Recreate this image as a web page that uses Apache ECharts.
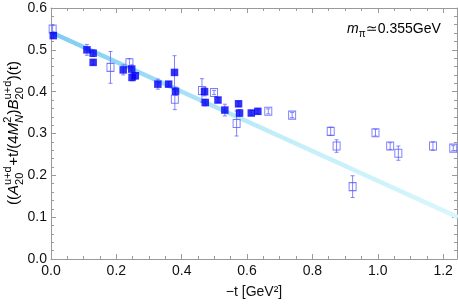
<!DOCTYPE html>
<html><head><meta charset="utf-8">
<script src="https://cdn.jsdelivr.net/npm/echarts@6/dist/echarts.min.js"></script>
<style>html,body{margin:0;padding:0;background:#fff}#c{width:458px;height:304px}</style>
</head><body><div id="c"></div>
<script>
// ---- data ----
const xTickLabels = ['0.0','0.2','0.4','0.6','0.8','1.0','1.2'];
const yTickLabels = ['0.0','0.1','0.2','0.3','0.4','0.5','0.6'];
const filledX   = [0.007,0.110,0.129,0.129,0.221,0.247,0.248,0.258,0.327,0.360,0.378,0.381,0.470,0.472,0.511,0.532,0.574,0.577,0.613,0.633];
const filledY   = [0.534,0.500,0.492,0.470,0.452,0.454,0.434,0.438,0.418,0.418,0.446,0.401,0.400,0.374,0.380,0.356,0.371,0.349,0.349,0.353];
const filledErr = [0.006,0.013,0.008,0.006,0.012,0.010,0.008,0.008,0.012,0.006,0.040,0.010,0.010,0.008,0.006,0.014,0.006,0.008,0.006,0.006];
const openX   = [0.005,0.182,0.240,0.379,0.462,0.499,0.568,0.665,0.738,0.856,0.874,0.923,0.993,1.038,1.063,1.169,1.231];
const openY   = [0.550,0.458,0.469,0.382,0.403,0.398,0.324,0.353,0.344,0.305,0.270,0.173,0.302,0.270,0.253,0.270,0.265];
const openErr = [0.008,0.038,0.010,0.025,0.028,0.005,0.030,0.006,0.006,0.010,0.015,0.026,0.008,0.008,0.017,0.010,0.006];
const fitX = [0, 1.245];
const fitY = [0.542, 0.100];

const FONT = '"Liberation Sans", "DejaVu Sans", Arial, sans-serif';
const chart = echarts.init(document.getElementById('c'), null, {renderer:'canvas'});

// measure helper for composed math-like labels
const mctx = document.createElement('canvas').getContext('2d');
function tw(t, size, it){ mctx.font = (it?'italic ':'') + size + 'px ' + FONT; return mctx.measureText(t).width; }
function compose(parts, base, small, color){
  const kids = []; let x = 0;
  parts.forEach(p => {
    if (p.t !== undefined){
      kids.push({type:'text', x:x, y:0, style:{text:p.t, fontSize:base, fontStyle:p.it?'italic':'normal', fontFamily:FONT, fill:color, verticalAlign:'middle', align:'left'}});
      x += tw(p.t, base, p.it);
    } else {
      let w = 0;
      if (p.sup){ kids.push({type:'text', x:x, y:-base*0.42, style:{text:p.sup, fontSize:small, fontStyle:p.supIt?'italic':'normal', fontFamily:FONT, fill:color, verticalAlign:'middle', align:'left'}}); w = Math.max(w, tw(p.sup, small, p.supIt)); }
      if (p.sub){ kids.push({type:'text', x:x, y:base*0.38, style:{text:p.sub, fontSize:small, fontStyle:p.subIt?'italic':'normal', fontFamily:FONT, fill:color, verticalAlign:'middle', align:'left'}}); w = Math.max(w, tw(p.sub, small, p.subIt)); }
      x += w + 0.5;
    }
  });
  return {kids, width:x};
}

const yl = compose([
  {t:'(('},{t:'A',it:1},{sup:'u+d',sub:'20'},{t:'+t/(4'},{t:'M',it:1},{sup:'2',sub:'N',subIt:1},
  {t:')'},{t:'B',it:1},{sup:'u+d',sub:'20'},{t:')(t)'}
], 15, 11, '#000');
yl.kids.forEach(k => { k.x -= yl.width/2; });

const ann = compose([{t:'m',it:1},{sub:'\u03c0'},{t:'\u2243'},{t:'0.355GeV'}], 14, 10, '#000');

function errItem(params, api){
  const x = api.value(0), y = api.value(1), e = api.value(2);
  const top = api.coord([x, y + e]), bot = api.coord([x, y - e]);
  const cw = 2;
  const st = {stroke:'#6f6fff', lineWidth:1, opacity:0.85};
  return {type:'group', children:[
    {type:'line', shape:{x1:top[0], y1:top[1], x2:bot[0], y2:bot[1]}, style:st},
    {type:'line', shape:{x1:top[0]-cw, y1:top[1], x2:top[0]+cw, y2:top[1]}, style:st},
    {type:'line', shape:{x1:bot[0]-cw, y1:bot[1], x2:bot[0]+cw, y2:bot[1]}, style:st}
  ]};
}

const XMAX = 1.2425;
const axisGray = '#9a9a9a';
function xAx(pos, interval, len, showLabel, showLine){
  return {type:'value', position:pos, min:0, max:XMAX, interval:interval,
    axisLine:{show:showLine, onZero:false, lineStyle:{color:axisGray, width:1}},
    axisTick:{show:true, inside:true, length:len, lineStyle:{color:axisGray}},
    axisLabel:{show:showLabel, showMaxLabel:false, margin:5, color:'#111', fontSize:14, fontFamily:FONT, formatter:v => xTickLabels[Math.round(v/0.2)] || ''},
    splitLine:{show:false}};
}
function yAx(pos, interval, len, showLabel, showLine){
  return {type:'value', position:pos, min:0, max:0.6, interval:interval,
    axisLine:{show:showLine, onZero:false, lineStyle:{color:axisGray, width:1}},
    axisTick:{show:true, inside:true, length:len, lineStyle:{color:axisGray}},
    axisLabel:{show:showLabel, margin:4, color:'#111', fontSize:14, fontFamily:FONT, formatter:v => yTickLabels[Math.round(v/0.1)] || ''},
    splitLine:{show:false}};
}

const option = {
  backgroundColor:'#fff',
  animation:false,
  grid:{left:51, right:1, top:8, bottom:45, containLabel:false},
  xAxis:[xAx('bottom',0.2,5,true,true), xAx('bottom',0.05,3,false,false), xAx('top',0.2,5,false,true), xAx('top',0.05,3,false,false)],
  yAxis:[yAx('left',0.1,5,true,true), yAx('left',0.02,3,false,false), yAx('right',0.1,5,false,true), yAx('right',0.02,3,false,false)],
  series:[
    {type:'line', xAxisIndex:0, yAxisIndex:0, data:fitX.map((x,i)=>[x,fitY[i]]), symbol:'none', clip:true, z:1,
     lineStyle:{width:4.5, color:new echarts.graphic.LinearGradient(0,0,1,0,[{offset:0,color:'#7fcbf3'},{offset:0.3,color:'#a3dff7'},{offset:0.55,color:'#c2eef9'},{offset:1,color:'#d8f7fc'}])}},
    {type:'custom', xAxisIndex:0, yAxisIndex:0, renderItem:errItem, data:openX.map((x,i)=>[x,openY[i],openErr[i]]), z:2},
    {type:'custom', xAxisIndex:0, yAxisIndex:0, renderItem:errItem, data:filledX.map((x,i)=>[x,filledY[i],filledErr[i]]), z:2},
    {type:'scatter', xAxisIndex:0, yAxisIndex:0, data:openX.map((x,i)=>[x,openY[i]]), symbol:'rect', symbolSize:[7,8], z:3,
     itemStyle:{color:'rgba(255,255,255,0)', borderColor:'#5a5aff', borderWidth:1}},
    {type:'scatter', xAxisIndex:0, yAxisIndex:0, data:filledX.map((x,i)=>[x,filledY[i]]), symbol:'rect', symbolSize:7.5, z:4,
     itemStyle:{color:'#0000f5'}}
  ],
  graphic:[
    {type:'group', x:14, y:133, rotation:Math.PI/2, children:yl.kids},
    {type:'group', x:347, y:29, children:ann.kids},
    {type:'text', x:254, y:292, style:{text:'\u2212t [GeV\u00b2]', fontSize:14, fontFamily:FONT, fill:'#111', align:'center', verticalAlign:'middle'}}
  ]
};
chart.setOption(option);
</script></body></html>
